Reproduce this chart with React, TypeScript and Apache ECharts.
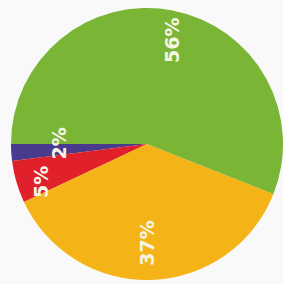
import React, { useEffect, useRef } from "react";
import * as echarts from "echarts";

const categories = ["Blue", "Red", "Yellow", "Green"];
const values = [2, 5, 37, 56];
const colors = ["#4a3a8e", "#e0202a", "#f4b417", "#7ab535"];
// screen-space shifts of the inside labels [x, y]
const labelShift: [number, number][] = [
  [-17, -5],
  [-38, 18],
  [-2, 28],
  [12, -34],
];

export default function App() {
  const ref = useRef<HTMLDivElement>(null);
  useEffect(() => {
    if (!ref.current) return;
    const chart = echarts.init(ref.current, undefined, { renderer: "svg" });
    chart.setOption({
      animation: false,
      backgroundColor: "#f9f9f9",
      series: [
        {
          type: "pie",
          center: [147, 144],
          radius: [0, 136],
          startAngle: 180,
          clockwise: false,
          silent: true,
          data: categories.map((name, i) => ({
            name,
            value: values[i],
            itemStyle: { color: colors[i] },
          })),
          label: {
            show: true,
            position: "inside",
            formatter: "{c}%",
            rotate: 90,
            color: "#f5f5e6",
            fontFamily: "DejaVu Sans",
            fontWeight: "bold",
            fontSize: 19,
          },
          labelLine: { show: false },
          labelLayout: (params: any) => {
            const s = labelShift[params.dataIndex] || [0, 0];
            // label is rotated 90°, so its local offsets are rotated
            return { dx: -s[1], dy: s[0] };
          },
        },
      ],
    });
    return () => chart.dispose();
  }, []);
  return (
    <div
      ref={ref}
      style={{ position: "absolute", left: 0, top: 0, width: 283, height: 284 }}
    />
  );
}
